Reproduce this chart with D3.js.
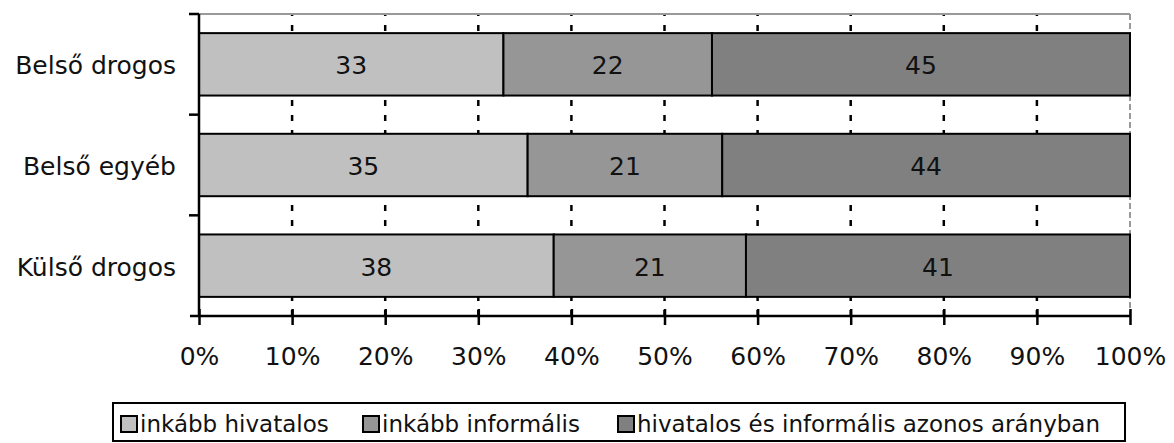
<!DOCTYPE html>
<html><head><meta charset="utf-8">
<script src="https://cdn.jsdelivr.net/npm/d3@7"></script>
<style>body{margin:0;background:#fff}svg text{font-family:"DejaVu Sans",Verdana,sans-serif}</style>
</head><body>
<svg id="c" width="1174" height="443"></svg>
<script>
const categories = ["Belső drogos", "Belső egyéb", "Külső drogos"];
const seriesNames = ["inkább hivatalos", "inkább informális", "hivatalos és informális azonos arányban"];
const hivatalos = [32.7, 35.3, 38.1];
const informalis = [22.4, 20.9, 20.65];
const azonos = [44.9, 43.8, 41.25];
const xTicks = [0, 10, 20, 30, 40, 50, 60, 70, 80, 90, 100];
const colors = ["#C0C0C0", "#969696", "#808080"];

const svg = d3.select("#c");
const L = 199, R = 1130, T = 14, B = 316;
const x = d3.scaleLinear().domain([0, 100]).range([L, R]);
const y = d3.scaleBand().domain(categories).range([T, B]).paddingInner(0.38).paddingOuter(0.19);

// gridlines
svg.append("g").selectAll("line").data(xTicks.slice(1, -1)).join("line")
  .attr("x1", d => x(d)).attr("x2", d => x(d)).attr("y1", T).attr("y2", B)
  .attr("stroke", "#000").attr("stroke-width", 2.5).attr("stroke-dasharray", "6,9").attr("stroke-dashoffset", 4);
// top and right border
svg.append("line").attr("x1", L).attr("x2", R).attr("y1", T).attr("y2", T).attr("stroke", "#999").attr("stroke-width", 2);
svg.append("line").attr("x1", R).attr("x2", R).attr("y1", T).attr("y2", B).attr("stroke", "#999").attr("stroke-width", 2).attr("stroke-dasharray", "6,3");

const data = categories.map((c, i) => {
  const vals = [hivatalos[i], informalis[i], azonos[i]];
  let acc = 0;
  return vals.map((v, j) => { const o = {c, j, v, x0: acc, x1: acc + v}; acc += v; return o; });
}).flat();

svg.append("g").selectAll("rect").data(data).join("rect")
  .attr("x", d => x(d.x0)).attr("width", d => x(d.x1) - x(d.x0))
  .attr("y", d => y(d.c)).attr("height", y.bandwidth())
  .attr("fill", d => colors[d.j]).attr("stroke", "#000").attr("stroke-width", 2);

svg.append("g").selectAll("text").data(data).join("text")
  .attr("x", d => x((d.x0 + d.x1) / 2)).attr("y", d => y(d.c) + y.bandwidth() / 2 + 10)
  .attr("text-anchor", "middle").attr("font-size", 25).attr("fill", "#111")
  .text(d => Math.round(d.v));

// x axis
const xa = svg.append("g").attr("transform", `translate(0,${B})`)
  .call(d3.axisBottom(x).tickValues(xTicks).tickFormat(d => d + "%").tickSize(9).tickPadding(22));
xa.select(".domain").attr("stroke-width", 2.5).attr("d", `M${L-9},0H${R}`);
xa.selectAll(".tick line").attr("stroke-width", 2.5).attr("y1", -7);
xa.selectAll("text").attr("font-size", 25).attr("font-family", "DejaVu Sans, Verdana, sans-serif").attr("fill", "#111");

// y axis
svg.append("line").attr("x1", L).attr("x2", L).attr("y1", T).attr("y2", B).attr("stroke", "#000").attr("stroke-width", 2.5);
const yTickPos = [T, T + (B - T) / 3, T + 2 * (B - T) / 3];
svg.append("g").selectAll("line").data(yTickPos).join("line")
  .attr("x1", L - 10).attr("x2", L).attr("y1", d => d).attr("y2", d => d)
  .attr("stroke", "#000").attr("stroke-width", 2.5);
svg.append("g").selectAll("text").data(categories).join("text")
  .attr("x", 176).attr("y", d => y(d) + y.bandwidth() / 2 + 10)
  .attr("text-anchor", "end").attr("font-size", 25).attr("fill", "#111").text(d => d);

// legend
const lg = svg.append("g");
lg.append("rect").attr("x", 113).attr("y", 403).attr("width", 1012).attr("height", 38)
  .attr("fill", "#fff").attr("stroke", "#000").attr("stroke-width", 2);
const lx = [121, 363, 618];
seriesNames.forEach((s, i) => {
  lg.append("rect").attr("x", lx[i]).attr("y", 416).attr("width", 16).attr("height", 16)
    .attr("fill", colors[i]).attr("stroke", "#000").attr("stroke-width", 2);
  lg.append("text").attr("x", lx[i] + 19).attr("y", 432).attr("font-size", 23).attr("fill", "#111").text(s);
});
</script>
</body></html>
